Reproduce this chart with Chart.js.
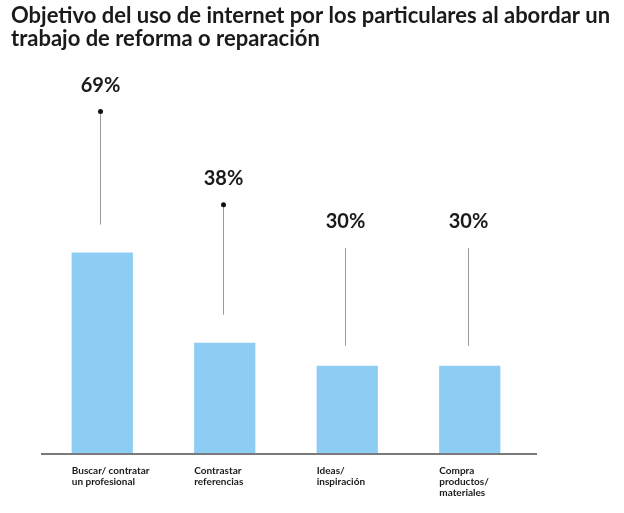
<!DOCTYPE html>
<html>
<head>
<meta charset="utf-8">
<script src="https://cdn.jsdelivr.net/npm/chart.js@4"></script>
<style>
  html, body { margin: 0; padding: 0; background: #fff; }
  #wrap { position: relative; width: 624px; height: 513px; }
</style>
</head>
<body>
<div id="wrap"><canvas id="chart"></canvas></div>
<script>
// data
const titleLines = [
  'Objetivo del uso de internet por los particulares al abordar un',
  'trabajo de reforma o reparación',
];
const categories = [
  ['Buscar/ contratar', 'un profesional'],
  ['Contrastar', 'referencias'],
  ['Ideas/', 'inspiración'],
  ['Compra', 'productos/', 'materiales'],
];
const shares = [69, 38, 30, 30];
const shareLabels = ['69%', '38%', '30%', '30%'];

const BAR_COLOR = '#8dcdf3';
const TEXT = '#1a1a1a';
const FONT = 'Lato, "Noto Sans", sans-serif';

// title drawn on the canvas, top-left
const titlePlugin = {
  id: 'titleBlock',
  beforeDraw(chart) {
    const { ctx } = chart;
    ctx.save();
    ctx.fillStyle = TEXT;
    ctx.font = `bold 22px ${FONT}`;
    ctx.textAlign = 'left';
    ctx.textBaseline = 'alphabetic';
    titleLines.forEach((line, i) => ctx.fillText(line, 11, 23 + i * 23));
    ctx.restore();
  },
};

// leader lines with value labels above each bar
const calloutPlugin = {
  id: 'callouts',
  afterDatasetsDraw(chart, _args, opts) {
    const { ctx } = chart;
    const bars = chart.getDatasetMeta(0).data;
    ctx.save();
    bars.forEach((bar, i) => {
      const x = Math.round(bar.x) - 1.5;
      const bottom = bar.y - opts.gap[i];
      const top = bottom - opts.length[i];
      ctx.strokeStyle = '#9a9a9a';
      ctx.lineWidth = 1;
      ctx.beginPath();
      ctx.moveTo(x, top);
      ctx.lineTo(x, bottom);
      ctx.stroke();
      if (opts.dot[i]) {
        ctx.fillStyle = '#111';
        ctx.beginPath();
        ctx.arc(x, top, 2.5, 0, Math.PI * 2);
        ctx.fill();
      }
      ctx.fillStyle = TEXT;
      ctx.font = `bold 20px ${FONT}`;
      ctx.textAlign = 'center';
      ctx.textBaseline = 'middle';
      ctx.fillText(shareLabels[i], x, top - 26);
    });
    // baseline, runs a little past the last bar slot
    const area = chart.chartArea;
    ctx.strokeStyle = '#7a7a7a';
    ctx.lineWidth = 2;
    ctx.beginPath();
    ctx.moveTo(area.left, area.bottom + 1);
    ctx.lineTo(area.right + 6, area.bottom + 1);
    ctx.stroke();
    ctx.restore();
  },
};

new Chart(document.getElementById('chart'), {
  type: 'bar',
  data: {
    labels: categories,
    datasets: [{
      data: shares,
      backgroundColor: BAR_COLOR,
      borderWidth: 0,
      barPercentage: 0.5,
      categoryPercentage: 1,
    }],
  },
  options: {
    responsive: true,
    maintainAspectRatio: false,
    animation: false,
    layout: { padding: { top: 58, left: 41, right: 93, bottom: 11 } },
    plugins: {
      legend: { display: false },
      tooltip: { enabled: false },
      callouts: {
        gap: [28, 28, 20, 20],
        length: [113, 110, 98, 98],
        dot: [true, true, false, false],
      },
    },
    scales: {
      x: {
        grid: { display: false },
        border: { display: false },
        ticks: {
          align: 'start',
          labelOffset: -30.5,
          padding: 4,
          color: TEXT,
          font: { family: FONT, size: 10, weight: 'bold', lineHeight: 1.1 },
          autoSkip: false,
          maxRotation: 0,
        },
      },
      y: { display: false, min: 0, max: 136 },
    },
  },
  plugins: [titlePlugin, calloutPlugin],
});
</script>
</body>
</html>
